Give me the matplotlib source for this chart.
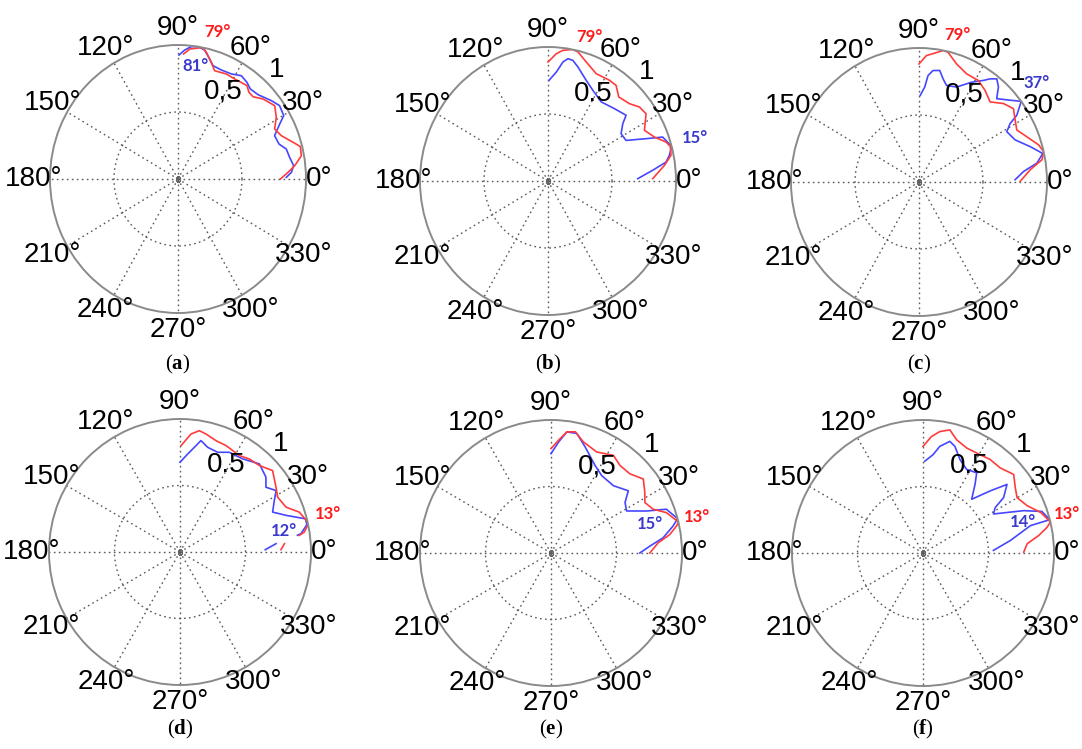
import numpy as np
import matplotlib.pyplot as plt

plt.rcParams['font.family'] = ['Liberation Sans', 'DejaVu Sans']
plt.rcParams['mathtext.fontset'] = 'custom'
plt.rcParams['mathtext.rm'] = 'Liberation Serif'
plt.rcParams['mathtext.bf'] = 'Liberation Serif:bold'

# ---- measured patterns (angle in degrees, normalised magnitude) ----
red_theta_a = [87.3, 84.6, 79, 76.8, 73.4, 70.5, 64.3, 59.3, 52.3, 49.4, 46.3, 42.0, 35.9, 30.9,
               26.3, 21.8, 17.0, 14.2, 10.2, 6.2, 3.3, 0]
red_r_a = [0.934, 0.974, 1.0, 0.971, 0.909, 0.857, 0.870, 0.868, 0.881, 0.852, 0.849, 0.893, 0.933,
           0.895, 0.842, 0.870, 0.939, 0.986, 0.979, 0.917, 0.861, 0.80]
blue_theta_a = [89.5, 86.9, 84.0, 81.0, 77.8, 74.6, 72.1, 67.4, 62.0, 57.3, 53.2, 50.0, 45.2, 38.7,
                34.6, 29.8, 27.3, 23.2, 18.3, 14.8, 10.5, 6.3, 3.2, 0.8]
blue_r_a = [0.925, 0.964, 0.993, 1.0, 0.985, 0.929, 0.889, 0.881, 0.888, 0.916, 0.900, 0.878, 0.887,
            0.935, 0.964, 0.952, 0.894, 0.821, 0.831, 0.875, 0.887, 0.909, 0.887, 0.846]

red_theta_b = [90, 86.1, 83.2, 79, 76.3, 71.4, 64.8, 57.4, 53.3, 48.6, 42.2, 37.7, 33.2, 30.8, 26.7,
               21.5, 17.5, 15.1, 11.3, 7.3, 1.2]
red_r_b = [0.888, 0.952, 0.982, 1.0, 0.991, 0.937, 0.885, 0.892, 0.890, 0.836, 0.859, 0.903, 0.916,
           0.886, 0.843, 0.894, 0.967, 0.99, 0.980, 0.917, 0.818]
blue_theta_b = [89.4, 85.4, 82.5, 80.3, 77.8, 74.6, 68.3, 62.6, 54.8, 46.1, 38.8, 36.2, 31.7, 26.4,
                22.4, 20.1, 15.0, 11.4, 8.7, 5.6, 1.4]
blue_r_b = [0.751, 0.816, 0.896, 0.926, 0.921, 0.882, 0.808, 0.762, 0.722, 0.749, 0.783, 0.724, 0.671,
            0.681, 0.829, 0.954, 1.0, 0.967, 0.933, 0.822, 0.701]

red_theta_c = [90, 86.5, 79, 76.8, 71.6, 65.3, 58.6, 53.0, 47.1, 41.6, 36.6, 31.6, 26.9, 21.8, 16.5,
               13.0, 9.8, 6.0, 0.4]
red_r_c = [0.881, 0.945, 1.0, 0.994, 0.929, 0.889, 0.888, 0.857, 0.816, 0.882, 0.919, 0.882, 0.857,
           0.908, 0.975, 1.0, 0.975, 0.874, 0.791]
blue_theta_c = [89.1, 86.4, 84.9, 82.5, 79.0, 76.3, 73.4, 67.5, 61.1, 56.4, 54.2, 51.7, 48.8, 45.7,
                40.6, 37.0, 33.1, 31.5, 28.7, 22.7, 16.9, 12.4, 8.7, 5.5, 1.3]
blue_r_c = [0.647, 0.710, 0.798, 0.839, 0.848, 0.793, 0.752, 0.767, 0.851, 0.910, 0.949, 0.981, 0.942,
            0.869, 0.938, 1.0, 0.912, 0.835, 0.782, 0.814, 0.908, 0.99, 0.932, 0.821, 0.751]

red_theta_d = [89.4, 84.6, 80.8, 77.4, 71.8, 66.3, 58.0, 52.9, 47.0, 40.9, 33.6, 28.9, 22.6, 18.2,
               13.0, 11.6, 9.0, 7.8, 6.0, 4.5, 1.3]
red_r_d = [0.80, 0.891, 0.924, 0.909, 0.881, 0.874, 0.855, 0.877, 0.889, 0.935, 0.880, 0.852, 0.877,
           0.959, 1.0, 0.995, 0.961, 0.920, np.nan, 0.80, 0.771]
blue_theta_d = [90, 85.4, 81.3, 79.2, 75.0, 69.0, 63.3, 55.7, 47.5, 40.6, 36.6, 32.2, 28.3, 23.0,
                18.8, 14.6, 12.0, 8.5, 8.0, 6.0, 4.9, 1.5]
blue_r_d = [0.675, 0.740, 0.809, 0.853, 0.815, 0.803, 0.839, 0.848, 0.898, 0.864, 0.817, 0.867, 0.818,
            0.768, 0.855, 0.99, 0.99, 0.934, 0.905, np.nan, 0.736, 0.651]

red_theta_e = [90, 86.1, 82.4, 78.5, 73.5, 65.3, 57.0, 51.3, 44.6, 38.3, 32.5, 27.9, 22.9, 19.0,
               13.5, 12.0, 8.7, 5.3, 0]
red_r_e = [0.785, 0.850, 0.919, 0.930, 0.871, 0.836, 0.875, 0.843, 0.847, 0.898, 0.849, 0.811, 0.846,
           0.932, 1.0, 0.98, 0.917, 0.821, 0.754]
blue_theta_e = [90, 86.0, 82.4, 77.6, 71.9, 62.9, 56.4, 46.7, 38.4, 33.9, 28.7, 23.4, 20.5, 15.0,
                12.3, 7.6, 3.9, 0]
blue_r_e = [0.747, 0.837, 0.919, 0.920, 0.839, 0.739, 0.699, 0.695, 0.753, 0.681, 0.658, 0.795, 0.940,
            1.0, 0.954, 0.863, 0.756, 0.678]

red_theta_f = [90, 85.8, 82.0, 77.5, 73.2, 67.1, 59.5, 53.9, 47.3, 40.5, 34.9, 30.1, 24.1, 18.8,
               13.5, 11.6, 8.5, 5.0, 0.5]
red_r_f = [0.801, 0.878, 0.922, 0.948, 0.889, 0.857, 0.858, 0.870, 0.870, 0.910, 0.859, 0.830, 0.871,
           0.948, 1.0, 0.968, 0.894, 0.798, 0.769]
blue_theta_f = [88.9, 84.1, 80.9, 76.3, 73.1, 68.1, 62.1, 55.8, 52.4, 47.4, 42.3, 38.8, 34.1, 31.8,
                28.6, 22.5, 19.0, 14.5, 14.1, 8.0, 2.1]
blue_r_f = [0.690, 0.743, 0.812, 0.864, 0.838, 0.757, 0.711, 0.729, 0.651, 0.549, 0.694, 0.823, 0.743,
            0.649, 0.613, 0.832, 0.96, 1.0, 0.846, 0.673, 0.538]

panel_letters = ['a', 'b', 'c', 'd', 'e', 'f']
half_labels = ['0,5', '0.5', '0,5', '0.5', '0,5', '0.5']
red_peaks = ['79°', '79°', '79°', '13°', '13°', '13°']
blue_peaks = ['81°', '15°', '37°', '12°', '15°', '14°']
angle_ticks = list(range(0, 360, 30))

red_data = [(red_theta_a, red_r_a), (red_theta_b, red_r_b), (red_theta_c, red_r_c),
            (red_theta_d, red_r_d), (red_theta_e, red_r_e), (red_theta_f, red_r_f)]
blue_data = [(blue_theta_a, blue_r_a), (blue_theta_b, blue_r_b), (blue_theta_c, blue_r_c),
             (blue_theta_d, blue_r_d), (blue_theta_e, blue_r_e), (blue_theta_f, blue_r_f)]

# layout: panel centre and half sizes in pixels, label positions in axes fraction
W, H = 1082, 749
centres = [(178, 179), (548, 181), (919, 182), (180, 552), (551, 553), (923, 553)]
half_size = [(128, 134)] * 3 + [(131, 133)] * 3
red_lab_pos = [(0.656, 1.049), (0.660, 1.037), (0.652, 1.049), (1.065, 0.643), (1.057, 0.635), (1.050, 0.647)]
blue_lab_pos = [(0.570, 0.922), (1.074, 0.660), (0.961, 0.869), (0.897, 0.579), (0.878, 0.609), (0.882, 0.617)]
caption_y = [364, 364, 364, 729, 729, 729]

fig = plt.figure(figsize=(W / 100, H / 100), dpi=100)

for i in range(6):
    cx, cy = centres[i]
    rx, ry = half_size[i]
    ax = fig.add_axes([(cx - rx) / W, 1 - (cy + ry) / H, 2 * rx / W, 2 * ry / H], projection='polar')
    ax.set_aspect('auto')
    ax.set_ylim(0, 1)
    ax.set_thetagrids(angle_ticks, labels=[''] * len(angle_ticks))
    ax.set_rgrids([0.5], labels=[''])
    ax.grid(True, color='#5a5a5a', linestyle=(0, (1.2, 2.4)), linewidth=1.0)
    ax.spines['polar'].set_color('#8a8a8a')
    ax.spines['polar'].set_linewidth(1.4)
    ax.plot([0], [0], 's', ms=3, mfc='none', mec='#666666', mew=0.8)

    bt, br = blue_data[i]
    rt, rr = red_data[i]
    ax.plot(np.deg2rad(bt), br, color='#4646ff', lw=1.2)
    ax.plot(np.deg2rad(rt), rr, color='#ff3c3c', lw=1.2)

    for a in angle_ticks:
        rad = 1.10 if a == 0 else 1.13
        ax.text(np.deg2rad(a), rad, f'{a}°', ha='center', va='center', fontsize=20, clip_on=False)
    ax.text(np.deg2rad(61.7), 0.74, half_labels[i], ha='center', va='center', fontsize=20)
    ax.text(np.deg2rad(46.5), 1.12, '1', ha='center', va='center', fontsize=20, clip_on=False)

    ax.text(*red_lab_pos[i], red_peaks[i], transform=ax.transAxes, ha='center', va='center',
            fontsize=12, fontweight='bold', color='#ff1a1a', family=['Lato', 'DejaVu Sans'])
    ax.text(*blue_lab_pos[i], blue_peaks[i], transform=ax.transAxes, ha='center', va='center',
            fontsize=12, fontweight='bold', color='#3a3acc', family=['Lato', 'DejaVu Sans'])

    fig.text(cx / W, 1 - caption_y[i] / H, r'($\mathbf{' + panel_letters[i] + '}$)',
             ha='center', va='center', fontsize=15, family=['Liberation Serif'])

fig.savefig('out.png', dpi=100)
